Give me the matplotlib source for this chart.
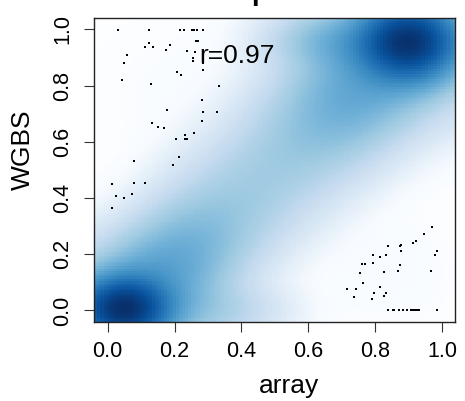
import numpy as np
import matplotlib
matplotlib.use("Agg")
import matplotlib.pyplot as plt
from matplotlib.colors import LinearSegmentedColormap

plt.rcParams['font.family'] = ['Liberation Sans', 'DejaVu Sans']

# ---- density model (smoothScatter-style) ----
# dense clusters, their halos, bands and faint off-diagonal clouds: x, y, sx, sy, weight
blob_x = [0.046, 0.9025, 0.08, 0.87, 0.30, 0.70, 0.22, 0.85]
blob_y = [0.006, 0.957, 0.04, 0.92, 0.00, 0.96, 0.78, 0.14]
blob_sx = [0.076, 0.082, 0.15, 0.16, 0.12, 0.11, 0.15, 0.12]
blob_sy = [0.064, 0.076, 0.12, 0.14, 0.06, 0.06, 0.15, 0.12]
blob_w = [0.0285, 0.0350, 0.0068, 0.0080, 0.0013, 0.0032, 0.00004, 0.00004]

# density along the line joining the two clusters
ridge_x = [0.089, 0.174, 0.260, 0.346, 0.431, 0.517, 0.603, 0.688, 0.774, 0.860]
ridge_y = [0.054, 0.149, 0.244, 0.339, 0.434, 0.529, 0.624, 0.719, 0.814, 0.910]
ridge_w = [0.0032, 0.0042, 0.0033, 0.0021, 0.0017, 0.0018, 0.0025, 0.0040, 0.0042, 0.0036]
ridge_sperp = [0.09, 0.095, 0.10, 0.11, 0.115, 0.115, 0.115, 0.11, 0.105, 0.10]
ridge_spar = 0.08

# ---- low-density points drawn as dots ----
pts_x = [0.031, 0.124, 0.217, 0.227, 0.252, 0.259, 0.268, 0.284, 0.264, 0.271,
         0.124, 0.112, 0.135, 0.187, 0.175, 0.237, 0.058, 0.261, 0.255, 0.255,
         0.286, 0.050, 0.284, 0.207, 0.219, 0.044, 0.129, 0.333, 0.281, 0.178,
         0.284, 0.326, 0.281, 0.132, 0.151, 0.168, 0.258, 0.232, 0.205, 0.232,
         0.237, 0.213, 0.195, 0.079, 0.013, 0.079, 0.112, 0.026, 0.050, 0.073,
         0.013,
         0.971, 0.946, 0.922, 0.913, 0.877, 0.875, 0.839, 0.878, 0.985, 0.979,
         0.833, 0.815, 0.795, 0.794, 0.761, 0.770, 0.875, 0.755, 0.828, 0.869,
         0.967, 0.764, 0.815, 0.715, 0.744, 0.797, 0.833, 0.738, 0.792, 0.827,
         0.839, 0.853, 0.858, 0.871, 0.884, 0.895, 0.908, 0.914, 0.920, 0.926,
         0.932, 0.985]
pts_y = [0.998, 0.998, 0.998, 0.998, 0.998, 0.998, 0.998, 0.998, 0.959, 0.959,
         0.952, 0.938, 0.938, 0.946, 0.926, 0.923, 0.908, 0.920, 0.900, 0.888,
         0.879, 0.881, 0.855, 0.849, 0.838, 0.819, 0.805, 0.798, 0.748, 0.712,
         0.705, 0.705, 0.674, 0.667, 0.653, 0.650, 0.632, 0.623, 0.610, 0.610,
         0.610, 0.546, 0.518, 0.532, 0.450, 0.454, 0.454, 0.407, 0.401, 0.416,
         0.366,
         0.297, 0.272, 0.247, 0.240, 0.233, 0.228, 0.229, 0.211, 0.211, 0.197,
         0.197, 0.190, 0.197, 0.169, 0.165, 0.165, 0.161, 0.133, 0.136, 0.140,
         0.140, 0.097, 0.082, 0.076, 0.076, 0.062, 0.062, 0.047, 0.040, 0.051,
         0.0, 0.0, 0.0, 0.0, 0.0, 0.0, 0.0, 0.0, 0.0, 0.0,
         0.0, 0.0]

ticks = [0.0, 0.2, 0.4, 0.6, 0.8, 1.0]
tick_labels = ["0.0", "0.2", "0.4", "0.6", "0.8", "1.0"]
r_label = "r=0.97"

# ---- build grid density ----
nbin = 128
gx = np.linspace(-0.07, 1.07, nbin)
gy = np.linspace(-0.07, 1.07, nbin)
X, Y = np.meshgrid(gx, gy)

def gauss(X, Y, cx, cy, sx, sy, w):
    return w / (2 * np.pi * sx * sy) * np.exp(-0.5 * (((X - cx) / sx) ** 2 + ((Y - cy) / sy) ** 2))

F = np.zeros_like(X)
for cx, cy, sx, sy, w in zip(blob_x, blob_y, blob_sx, blob_sy, blob_w):
    F += gauss(X, Y, cx, cy, sx, sy, w)

d = np.array([ridge_x[-1] - ridge_x[0], ridge_y[-1] - ridge_y[0]])
d = d / np.hypot(*d)
U = X * d[0] + Y * d[1]
V = -X * d[1] + Y * d[0]
for cx, cy, w, sp in zip(ridge_x, ridge_y, ridge_w, ridge_sperp):
    u0 = cx * d[0] + cy * d[1]
    v0 = -cx * d[1] + cy * d[0]
    F += gauss(U, V, u0, v0, ridge_spar, sp, w)
T = (F / F.max()) ** 0.25

blues9 = ["#F7FBFF", "#DEEBF7", "#C6DBEF", "#9ECAE1", "#6BAED6",
          "#4292C6", "#2171B5", "#08519C", "#08306B"]
cmap = LinearSegmentedColormap.from_list("sm", ["#FFFFFF"] + blues9, N=256)

W, H = 465, 401
fig = plt.figure(figsize=(W / 100, H / 100), dpi=100)
ax = fig.add_axes([94.3 / W, 1 - 321.7 / H, (455.3 - 94.3) / W, (321.7 - 18.2) / H])
dx = gx[1] - gx[0]
ax.imshow(T, origin="lower", cmap=cmap, interpolation="nearest", aspect="auto",
          vmin=T.min(), vmax=T.max(),
          extent=[gx[0] - dx / 2, gx[-1] + dx / 2, gy[0] - dx / 2, gy[-1] + dx / 2])
ax.scatter(pts_x, pts_y, s=2.2, marker="s", c="black", linewidths=0, zorder=3)
ax.set_xlim(-0.04, 1.04)
ax.set_ylim(-0.04, 1.04)

ax.set_xticks(ticks)
ax.set_xticklabels(tick_labels)
ax.set_yticks(ticks)
ax.set_yticklabels(tick_labels, rotation=90, va="center")
ax.tick_params(axis="both", direction="out", length=7, width=0.8, labelsize=15.5, color="#333333")
ax.tick_params(axis="x", pad=7)
ax.tick_params(axis="y", pad=8)
for s in ax.spines.values():
    s.set_linewidth(1.0)
    s.set_color("#222222")

ax.text(0.388, 0.88, r_label, ha="center", va="baseline", fontsize=19, zorder=4)

fig.text(289.5 / W, 1 - 393 / H, "array", ha="center", va="baseline", fontsize=19)
fig.text(23 / W, 1 - 150 / H, "WGBS", ha="center", va="center", rotation=90, fontsize=19)
fig.text(251 / W, 1.0, "p", ha="left", va="baseline", fontsize=20, fontweight="bold")

fig.savefig("out.png", dpi=100)
